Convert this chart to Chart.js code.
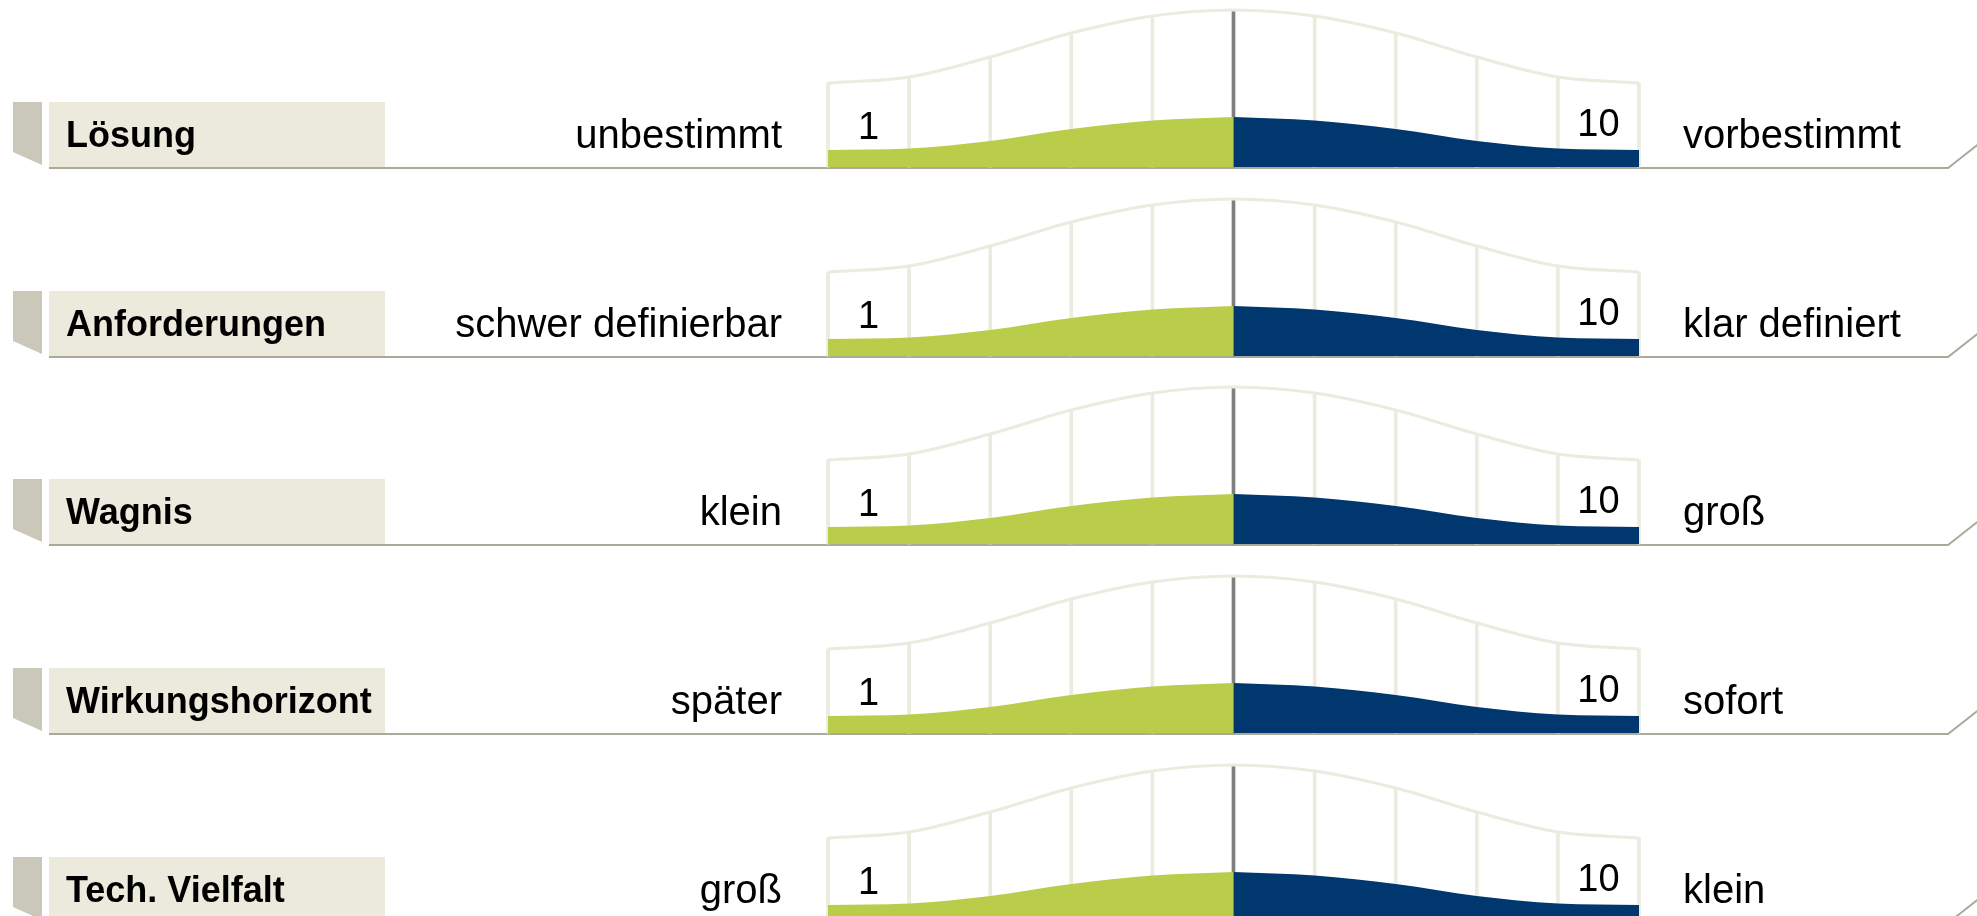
<!DOCTYPE html>
<html>
<head>
<meta charset="utf-8">
<title>Projektprofil</title>
<script src="https://cdn.jsdelivr.net/npm/chart.js@4.4.1/dist/chart.umd.min.js"></script>
<style>
  html, body { margin: 0; padding: 0; background: #fff; overflow: hidden; }
  #wrap { position: relative; width: 1977px; height: 916px; overflow: hidden; }
  .row { position: absolute; left: 0; width: 1977px; height: 189px; }
</style>
</head>
<body>
<div id="wrap"></div>
<script>
// Kriterien und ihre Pole
const rowLabels = ['Lösung', 'Anforderungen', 'Wagnis', 'Wirkungshorizont', 'Tech. Vielfalt'];
const leftPoles = ['unbestimmt', 'schwer definierbar', 'klein', 'später', 'groß'];
const rightPoles = ['vorbestimmt', 'klar definiert', 'groß', 'sofort', 'klein'];
const scaleEnds = ['1', '10'];

// Skala: Zellgrenzen 0..10, Glockenkurve und Füllung
const gridX = [0, 1, 2, 3, 4, 5, 6, 7, 8, 9, 10];
const bellValues = [84, 90, 110, 134, 151, 157, 151, 134, 110, 90, 84];
const greenX = [0, 1, 2, 3, 4, 5];
const greenValues = [17, 18.5, 26, 38, 46.5, 50];
const blueX = [5, 6, 7, 8, 9, 10];
const blueValues = [50, 46.5, 38, 26, 18.5, 17];

const ROW_GAP = 188.7;
const FONT = '"Liberation Sans", Arial, sans-serif';

// Reiter, Kasten, Grundlinie und Beschriftungen einer Zeile
const rowDecor = {
    id: 'rowDecor',
    beforeDraw(chart, args, opts) {
        const ctx = chart.ctx;
        const b = chart.chartArea.bottom;
        ctx.save();
        ctx.fillStyle = '#c9c8b9';
        ctx.beginPath();
        ctx.moveTo(13, b - 65);
        ctx.lineTo(42, b - 65);
        ctx.lineTo(42, b - 2);
        ctx.lineTo(13, b - 15);
        ctx.closePath();
        ctx.fill();

        ctx.fillStyle = '#eceadd';
        ctx.fillRect(49, b - 65, 336, 65);

        ctx.strokeStyle = '#aaa99c';
        ctx.lineWidth = 2;
        ctx.beginPath();
        ctx.moveTo(49, b + 1);
        ctx.lineTo(1948, b + 1);
        ctx.lineTo(1990, b - 32);
        ctx.stroke();

        ctx.fillStyle = '#000';
        ctx.textBaseline = 'alphabetic';
        ctx.font = 'bold 36px ' + FONT;
        ctx.textAlign = 'left';
        ctx.fillText(opts.label, 66, b - 20);

        ctx.font = '40px ' + FONT;
        ctx.textAlign = 'right';
        ctx.fillText(opts.left, 782, b - 19);
        ctx.textAlign = 'left';
        ctx.fillText(opts.right, 1683, b - 19);
        ctx.restore();
    },
    afterDatasetsDraw(chart) {
        const ctx = chart.ctx;
        const b = chart.chartArea.bottom;
        const x = chart.scales.x;
        ctx.save();
        ctx.fillStyle = '#000';
        ctx.font = '38px ' + FONT;
        ctx.textAlign = 'center';
        ctx.fillText(scaleEnds[0], x.getPixelForValue(0.5), b - 28);
        ctx.fillText(scaleEnds[1], x.getPixelForValue(9.5), b - 31);
        ctx.restore();
    }
};

const wrap = document.getElementById('wrap');

rowLabels.forEach((label, i) => {
    const div = document.createElement('div');
    div.className = 'row';
    div.style.top = (i * ROW_GAP - 3) + 'px';
    const canvas = document.createElement('canvas');
    canvas.width = 1977;
    canvas.height = 189;
    div.appendChild(canvas);
    wrap.appendChild(div);

    new Chart(canvas.getContext('2d'), {
        type: 'line',
        data: {
            datasets: [
                {
                    data: gridX.map((x, k) => ({ x: x, y: bellValues[k] })),
                    borderColor: '#ecebdf',
                    borderWidth: 3,
                    pointRadius: 0,
                    cubicInterpolationMode: 'monotone',
                    fill: false,
                    clip: false,
                    order: 0
                },
                {
                    data: greenX.map((x, k) => ({ x: x, y: greenValues[k] })),
                    backgroundColor: '#b9cd4b',
                    borderWidth: 0,
                    pointRadius: 0,
                    cubicInterpolationMode: 'monotone',
                    fill: 'origin',
                    clip: false,
                    order: 1
                },
                {
                    data: blueX.map((x, k) => ({ x: x, y: blueValues[k] })),
                    backgroundColor: '#00376f',
                    borderWidth: 0,
                    pointRadius: 0,
                    cubicInterpolationMode: 'monotone',
                    fill: 'origin',
                    clip: false,
                    order: 1
                },
                {
                    type: 'bar',
                    data: gridX.map((x, k) => ({ x: x, y: bellValues[k] })),
                    backgroundColor: gridX.map(x => x === 5 ? '#7f7f7f' : '#ecebdf'),
                    borderWidth: 0,
                    barThickness: 3,
                    clip: false,
                    order: 2
                }
            ]
        },
        options: {
            responsive: false,
            animation: false,
            devicePixelRatio: 1,
            events: [],
            layout: { padding: { left: 828, right: 338, top: 0, bottom: 19 } },
            scales: {
                x: { type: 'linear', min: 0, max: 10, offset: false, display: false },
                y: { min: 0, max: 170, display: false }
            },
            plugins: {
                legend: { display: false },
                tooltip: { enabled: false },
                rowDecor: { label: label, left: leftPoles[i], right: rightPoles[i] }
            }
        },
        plugins: [rowDecor]
    });
});
</script>
</body>
</html>
